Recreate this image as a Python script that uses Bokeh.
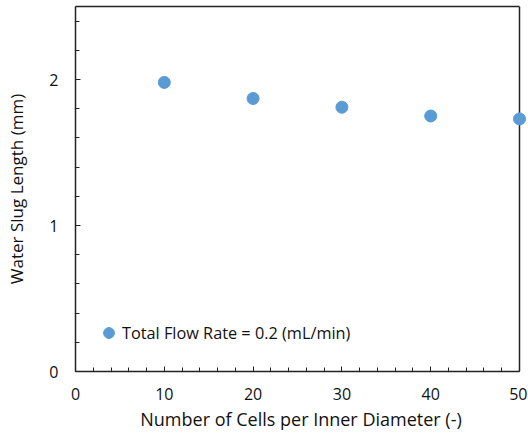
from bokeh.plotting import figure
from bokeh.models import Range1d, Legend, LegendItem, SingleIntervalTicker, LinearAxis, Span, FixedTicker
from bokeh.embed import file_html
from bokeh.resources import INLINE

cells = [10, 20, 30, 40, 50]
slug_length = [1.98, 1.87, 1.81, 1.75, 1.73]
series_label = "Total Flow Rate = 0.2 (mL/min)"

FONT = "Open Sans"
LINE = "#222222"
TXT = "#111111"

p = figure(width=527, height=436, output_backend="svg", toolbar_location=None,
           x_range=Range1d(0, 50.788), y_range=Range1d(0, 2.5),
           min_border_left=75, min_border_right=1, min_border_top=6, min_border_bottom=65)
p.grid.visible = False
p.outline_line_color = None
p.background_fill_color = "white"
p.border_fill_color = "white"

# right border of the plot area at x = 50 (drawn beneath the points)
right_edge = Span(location=50, dimension="height", line_color=LINE, line_width=1.5, level="underlay")
p.add_layout(right_edge)

r = p.scatter(cells, slug_length, size=12, color="#5B9BD5", line_color="#5B9BD5")

for ax in (p.xaxis[0], p.yaxis[0]):
    ax.axis_line_color = LINE
    ax.axis_line_width = 1.5
    ax.major_tick_in = 5
    ax.major_tick_out = 0
    ax.minor_tick_in = 4
    ax.minor_tick_out = 0
    ax.major_tick_line_color = LINE
    ax.minor_tick_line_color = LINE
    ax.major_label_text_font = FONT
    ax.major_label_text_font_size = "16px"
    ax.major_label_text_color = TXT
    ax.axis_label_text_font = FONT
    ax.axis_label_text_font_style = "normal"
    ax.axis_label_text_color = TXT

p.xaxis.bounds = (0, 50)
p.xaxis.ticker = SingleIntervalTicker(interval=10, num_minor_ticks=5)
p.yaxis.ticker = SingleIntervalTicker(interval=1, num_minor_ticks=5)
p.xaxis.axis_label = "Number of Cells per Inner Diameter (-)"
p.yaxis.axis_label = "Water Slug Length (mm)"
p.xaxis.axis_label_text_font_size = "18px"
p.yaxis.axis_label_text_font_size = "17px"
p.xaxis.major_label_standoff = 16
p.yaxis.major_label_standoff = 17
p.xaxis.axis_label_standoff = 4
p.yaxis.axis_label_standoff = 18

top = LinearAxis(bounds=(0, 50), axis_line_color=LINE, axis_line_width=1.5,
                 ticker=FixedTicker(ticks=[], minor_ticks=[]),
                 major_tick_in=0, major_tick_out=0, minor_tick_in=0, minor_tick_out=0,
                 major_label_standoff=0)
p.add_layout(top, "above")

legend = Legend(items=[LegendItem(label=series_label, renderers=[r])],
                location=(20, 25), padding=0, margin=0, glyph_width=27, glyph_height=27,
                label_standoff=0, border_line_color=None, background_fill_alpha=0,
                label_text_font=FONT, label_text_font_size="16.3px", label_text_color=TXT)
p.add_layout(legend, "center")

open("out.html", "w").write(file_html(p, INLINE))
